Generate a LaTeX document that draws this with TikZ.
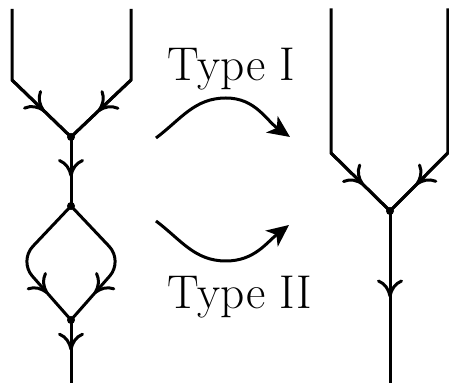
\documentclass[tikz,border=0pt]{standalone}
\usetikzlibrary{arrows.meta,decorations.markings}
\begin{document}
\begin{tikzpicture}[
  x=0.5pt, y=-0.5pt,
  line width=1.5pt,
  edge/.style={draw, line join=miter},
  midarrow/.style={postaction={decorate}, decoration={markings,
      mark=at position #1 with {\arrow{To[length=9pt,width=13pt]}}}},
  midarrow/.default=0.55,
  vertex/.style={circle, fill, inner sep=0pt, minimum size=4pt},
  move/.style={draw, -{Stealth[length=11pt,width=10pt,inset=3pt]}},
  label/.style={font=\fontsize{23.7}{28}\selectfont, inner sep=0pt, anchor=base west}
]
\useasboundingbox (0,0) rectangle (449,383);

% left graph: two incoming legs, a bubble, one outgoing leg
\coordinate (la) at (12,9);
\coordinate (lac) at (12,80);
\coordinate (lb) at (131,9);
\coordinate (lbc) at (131,80);
\node[vertex] (v1) at (71,137) {};
\node[vertex] (v2) at (71,206) {};
\node[vertex] (v3) at (71,320) {};
\coordinate (dl) at (19,261);
\coordinate (dr) at (123,261);
\coordinate (lend) at (71,384);

\draw[edge] (la) -- (lac) -- (v1.center);
\draw[midarrow] (lac) -- (v1.center);
\draw[edge] (lb) -- (lbc) -- (v1.center);
\draw[midarrow] (lbc) -- (v1.center);
\draw[midarrow=0.58] (v1.center) -- (v2.center);
\draw[rounded corners=10pt, midarrow=0.76] (v2.center) -- (dl) -- (v3.center);
\draw[rounded corners=10pt, midarrow=0.76] (v2.center) -- (dr) -- (v3.center);
\draw[midarrow=0.48] (v3.center) -- (lend);

% right graph: two incoming legs meeting at one vertex
\coordinate (ra) at (331,8.5);
\coordinate (rac) at (331,153);
\coordinate (rb) at (447.8,8.5);
\coordinate (rbc) at (447.8,153);
\node[vertex] (w1) at (390,211) {};
\coordinate (rend) at (390,384);

\draw[edge] (ra) -- (rac) -- (w1.center);
\draw[midarrow] (rac) -- (w1.center);
\draw[edge] (rb) -- (rbc) -- (w1.center);
\draw[midarrow] (rbc) -- (w1.center);
\draw[midarrow=0.5] (w1.center) -- (rend);

% the two moves
\coordinate (s1) at (156,138);
\coordinate (p1) at (226,98);
\coordinate (e1) at (290,137);
\coordinate (s2) at (156,221);
\coordinate (p2) at (226,261);
\coordinate (e2) at (289,225);
\draw[move] (s1) to[out=37,in=180] (p1) to[out=0,in=145] (e1);
\draw[move] (s2) to[out=-37,in=180] (p2) to[out=0,in=-142] (e2);

\node[label] (t1) at (166,81) {Type I};
\node[label] (t2) at (166,309) {Type II};
\end{tikzpicture}
\end{document}
